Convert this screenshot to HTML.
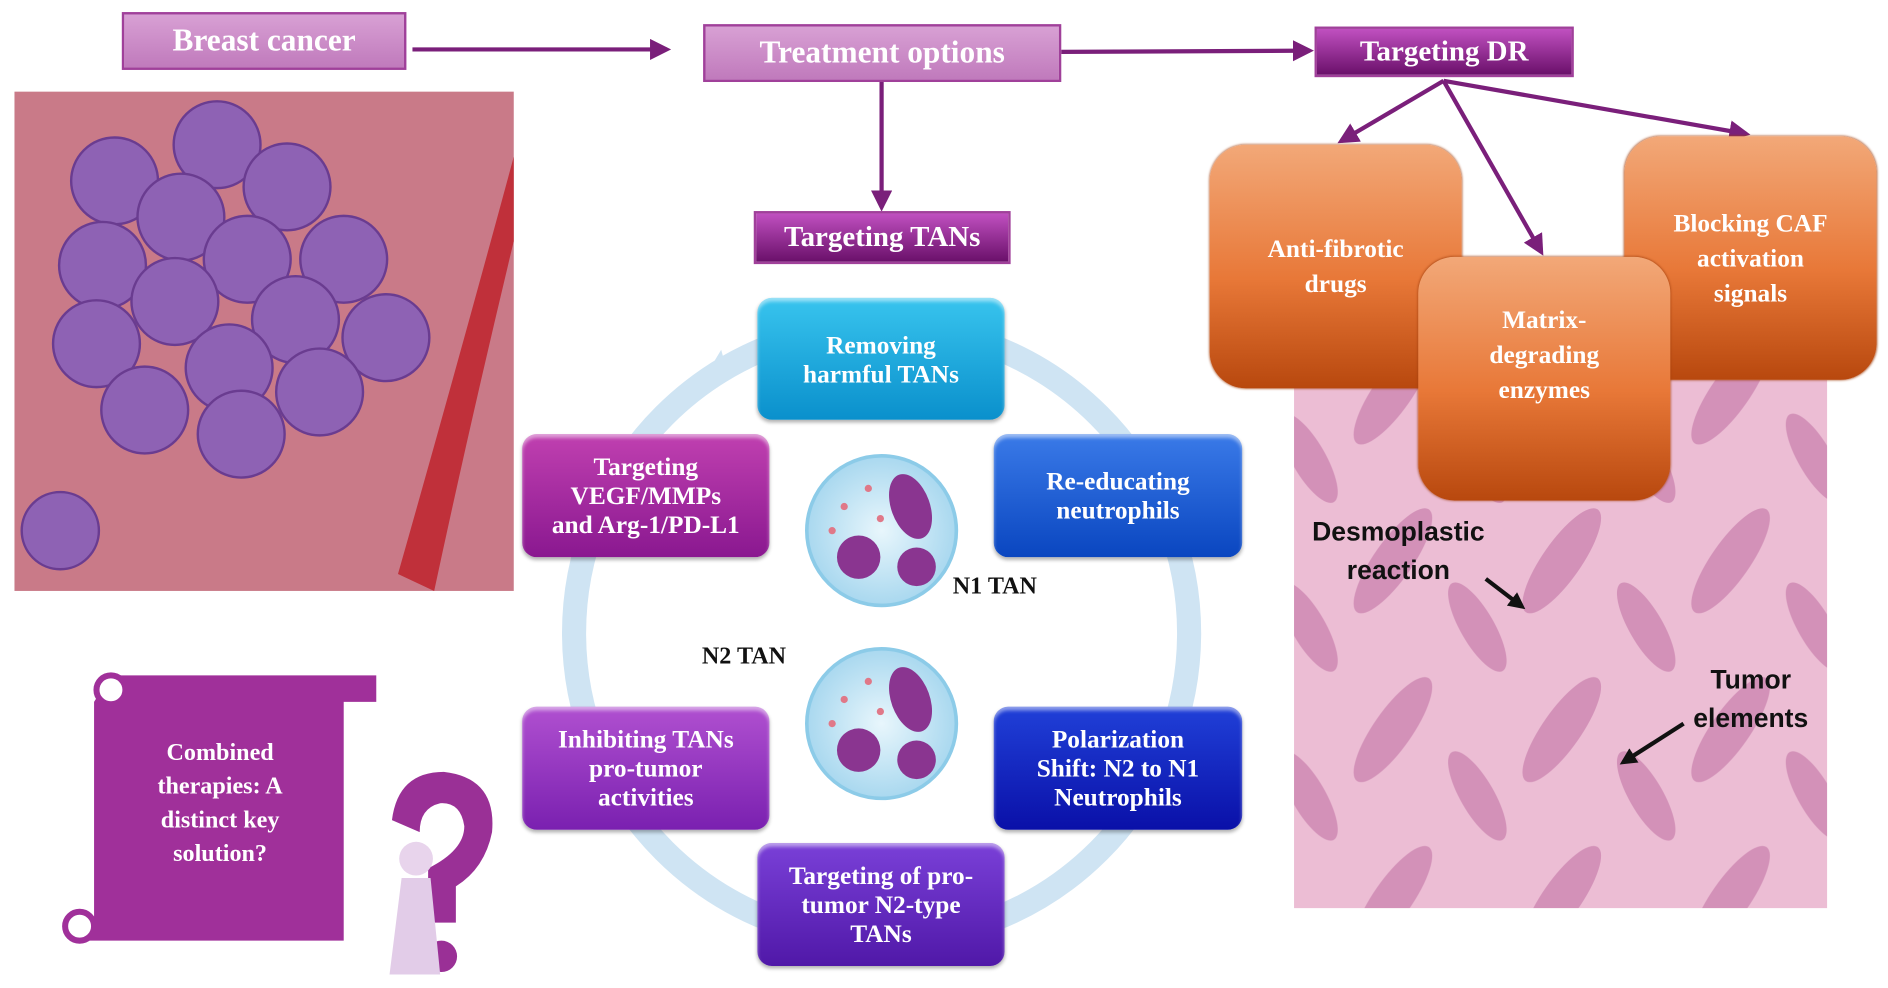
<!DOCTYPE html>
<html><head><meta charset="utf-8"><style>
html,body{margin:0;padding:0;background:#fff;width:1888px;height:988px;overflow:hidden}
#s{position:absolute;left:0;top:0;width:1560px;height:816px;transform:scale(1.206);transform-origin:0 0;font-family:"Liberation Serif",serif}
.b{position:absolute;box-sizing:border-box;display:flex;align-items:center;justify-content:center;text-align:center;color:#fff;font-weight:bold}
.h{border:2px solid #a0409a;font-size:26px}
.o{border-radius:30px;font-size:21px;line-height:29px;background:linear-gradient(#f2a878,#e87838 55%,#b8480e);box-shadow:0 0 2px #a04010}
.c{border-radius:12px;font-size:21px;line-height:24px;box-shadow:inset 0 3px 3px rgba(255,255,255,.5),0 2px 3px rgba(0,0,0,.3)}
.t{position:absolute;font-family:"Liberation Sans",sans-serif;font-weight:bold;font-size:22px;color:#111;text-align:center;line-height:32px}
</style></head><body><div id="s">
<svg width="1560" height="816" style="position:absolute;left:0;top:0">
<defs>
<marker id="a" markerWidth="5" markerHeight="5" refX="4" refY="2.5" orient="auto"><path d="M0,0L5,2.5L0,5z" fill="#7a1f7a"/></marker>
<marker id="k" markerWidth="4" markerHeight="4" refX="3" refY="2" orient="auto"><path d="M0,0L4,2L0,4z" fill="#111"/></marker>
<pattern id="hp" width="140" height="140" patternUnits="userSpaceOnUse"><rect width="140" height="140" fill="#ecbdd4"/><ellipse cx="35" cy="45" rx="16" ry="52" transform="rotate(35 35 45)" fill="#d391b8"/><ellipse cx="105" cy="100" rx="14" ry="42" transform="rotate(-30 105 100)" fill="#d391b8"/></pattern>
<radialGradient id="nc"><stop offset="0" stop-color="#e8f6fc"/><stop offset="1" stop-color="#a9d8ef"/></radialGradient>
</defs>
<rect x="12" y="76" width="414" height="414" fill="#c97a88"/>
<g fill="#8e62b4" stroke="#6a3c90" stroke-width="2">
<circle cx="95" cy="150" r="36"/><circle cx="180" cy="120" r="36"/><circle cx="238" cy="155" r="36"/><circle cx="150" cy="180" r="36"/><circle cx="85" cy="220" r="36"/><circle cx="205" cy="215" r="36"/><circle cx="285" cy="215" r="36"/><circle cx="145" cy="250" r="36"/><circle cx="80" cy="285" r="36"/><circle cx="245" cy="265" r="36"/><circle cx="320" cy="280" r="36"/><circle cx="190" cy="305" r="36"/><circle cx="120" cy="340" r="36"/><circle cx="265" cy="325" r="36"/><circle cx="200" cy="360" r="36"/><circle cx="50" cy="440" r="32"/></g>
<path d="M330,476 Q380,300 426,130 L426,200 Q390,350 360,490 Z" fill="#c0303a"/>
<rect x="1073" y="315" width="442" height="438" fill="url(#hp)"/>
<circle cx="731" cy="525" r="255" fill="none" stroke="#cfe4f3" stroke-width="20"/>
<path d="M580,320 l18,-30 l6,22z" fill="#cfe4f3"/>
<g stroke="#7a1f7a" stroke-width="3.5" fill="none" marker-end="url(#a)">
<line x1="342" y1="41" x2="553" y2="41"/><line x1="880" y1="43" x2="1086" y2="42"/><line x1="731" y1="68" x2="731" y2="172"/>
<line x1="1197" y1="67" x2="1112" y2="117"/><line x1="1197" y1="67" x2="1278" y2="209"/><line x1="1197" y1="67" x2="1448" y2="111"/></g>
<g stroke="#111" stroke-width="3.5" marker-end="url(#k)"><line x1="1232" y1="480" x2="1262" y2="503"/><line x1="1396" y1="600" x2="1346" y2="632"/></g>
<circle cx="731" cy="440" r="62" fill="url(#nc)" stroke="#8ccbe8" stroke-width="3"/><circle cx="731" cy="600" r="62" fill="url(#nc)" stroke="#8ccbe8" stroke-width="3"/>
<g fill="#8a3590"><ellipse cx="755" cy="420" rx="16" ry="28" transform="rotate(-20 755 420)"/><circle cx="712" cy="462" r="18"/><circle cx="760" cy="470" r="16"/><ellipse cx="755" cy="580" rx="16" ry="28" transform="rotate(-20 755 580)"/><circle cx="712" cy="622" r="18"/><circle cx="760" cy="630" r="16"/></g>
<g fill="#e07888"><circle cx="700" cy="420" r="3"/><circle cx="720" cy="405" r="3"/><circle cx="690" cy="440" r="3"/><circle cx="730" cy="430" r="3"/><circle cx="700" cy="580" r="3"/><circle cx="720" cy="565" r="3"/><circle cx="690" cy="600" r="3"/><circle cx="730" cy="590" r="3"/></g>
<path d="M92,560 H312 V582 H285 V780 H70 V760 H78 V582 Z" fill="#a0309a"/>
<circle cx="92" cy="572" r="12" fill="#fff" stroke="#a0309a" stroke-width="5"/><circle cx="66" cy="768" r="12" fill="#fff" stroke="#a0309a" stroke-width="5"/>
<path d="M325,680 Q330,640 368,640 Q412,645 408,690 Q402,720 378,735 L378,765 L355,765 L355,720 Q385,705 385,685 Q382,665 365,666 Q348,670 348,690 Z" fill="#9a3096"/><circle cx="366" cy="793" r="13" fill="#9a3096"/>
<circle cx="345" cy="712" r="14" fill="#e8d4ec"/><path d="M333,728 h24 l8,80 h-42z" fill="#e2cce8"/>
</svg>
<div class="b h" style="left:101px;top:10px;width:236px;height:48px;background:linear-gradient(#d8a0d4,#c07abc)">Breast cancer</div>
<div class="b h" style="left:583px;top:20px;width:297px;height:48px;background:linear-gradient(#d8a0d4,#c07abc)">Treatment options</div>
<div class="b h" style="left:1090px;top:22px;width:215px;height:42px;font-size:24px;background:linear-gradient(#c050c0,#6a106a)">Targeting DR</div>
<div class="b h" style="left:625px;top:175px;width:213px;height:44px;font-size:24px;background:linear-gradient(#c050c0,#6a106a)">Targeting TANs</div>
<div class="b o" style="left:1003px;top:120px;width:209px;height:202px">Anti-fibrotic<br>drugs</div>
<div class="b o" style="left:1347px;top:113px;width:209px;height:202px">Blocking CAF<br>activation<br>signals</div>
<div class="b o" style="left:1176px;top:213px;width:209px;height:202px;padding-bottom:40px">Matrix-<br>degrading<br>enzymes</div>
<div class="b c" style="left:628px;top:247px;width:205px;height:101px;background:linear-gradient(#38c4ee,#0a90cc)">Removing<br>harmful TANs</div>
<div class="b c" style="left:824px;top:360px;width:206px;height:102px;background:linear-gradient(#3a7ae8,#0a46c0)">Re-educating<br>neutrophils</div>
<div class="b c" style="left:433px;top:360px;width:205px;height:102px;background:linear-gradient(#c040b0,#8a1890)">Targeting<br>VEGF/MMPs<br>and Arg-1/PD-L1</div>
<div class="b c" style="left:433px;top:586px;width:205px;height:102px;background:linear-gradient(#b050d0,#7a20b0)">Inhibiting TANs<br>pro-tumor<br>activities</div>
<div class="b c" style="left:824px;top:586px;width:206px;height:102px;background:linear-gradient(#2040d8,#0a10a8)">Polarization<br>Shift: N2 to N1<br>Neutrophils</div>
<div class="b c" style="left:628px;top:699px;width:205px;height:102px;background:linear-gradient(#7a40d8,#5018a8)">Targeting of pro-<br>tumor N2-type<br>TANs</div>
<div class="b" style="left:790px;top:475px;color:#111;font-size:20px">N1 TAN</div>
<div class="b" style="left:582px;top:533px;color:#111;font-size:20px">N2 TAN</div>
<div class="b" style="left:80px;top:610px;width:205px;font-size:20px;line-height:28px">Combined<br>therapies: A<br>distinct key<br>solution?</div>
<div class="t" style="left:1088px;top:425px">Desmoplastic<br>reaction</div>
<div class="t" style="left:1404px;top:548px">Tumor<br>elements</div>
</div></body></html>
